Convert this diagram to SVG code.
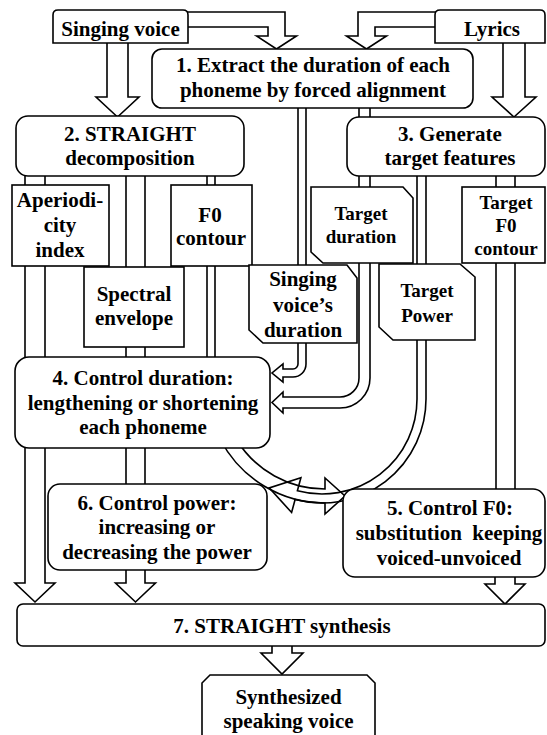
<svg xmlns="http://www.w3.org/2000/svg" width="547" height="735" viewBox="0 0 547 735">
<style>
.c{fill:#fff;stroke:#000;stroke-width:1.6;stroke-linejoin:miter}
.a{fill:none;stroke:#000;stroke-width:1.6}
.n{fill:#fff;stroke:#000;stroke-width:1.6}
text{font-family:"Liberation Serif","Times New Roman",serif;font-weight:bold;font-size:21px;text-anchor:middle;fill:#000}
.s{font-size:19px}
</style>
<rect width="547" height="735" fill="#fff"/>
<g id="connectors">
<path class="c" d="M180,12 H285 V36 H296.5 L276.5,49 L256.5,36 H268 V27 H180 Z"/>
<path class="c" d="M440,12 H358 V36 H346.5 L366.5,49 L386.5,36 H375 V27 H440 Z"/>
<path class="c" d="M107,38 V97 H96 L117.5,117 L139,97 H128 V38 Z"/>
<path class="c" d="M503,38 V97 H492 L514,117 L536,97 H525 V38 Z"/>
<path class="c" d="M298,105 V364 A5,5 0 0 1 293,369 H283 V364 L272,373 L283,382 V377 H293 A13,13 0 0 0 306,364 V105 Z"/>
<path class="c" d="M359,105 V378 A19,19 0 0 1 340,397 H283 V392 L272,402.5 L283,413 V408 H340 A30,30 0 0 0 370,378 V105 Z"/>
<path class="a" d="M417,170 V399 A95,95 0 0 1 297.4,490.8 L300.9,477.7 L269.2,487.9 L291.6,512.5 L295.1,499.5 A104,104 0 0 0 426,399 V170 Z"/>
<path class="a" d="M220.6,440 A118,118 0 0 0 325,503 V514 L345,496 L325,478 V489 A104,104 0 0 1 236.7,440 Z"/>
<path class="c" d="M126,170 V583 H115.5 L135.5,602 L155.5,583 H145 V170 Z"/>
<path class="c" d="M25,170 V583 H15 L35,602 L55,583 H45 V170 Z"/>
<path class="c" d="M207,170 V362 H215 V170 Z"/>
<path class="c" d="M496,170 V495 H515 V170 Z"/>
<path class="c" d="M495,570 V584 H485 L505,604 L525,584 H515 V570 Z"/>
<path class="c" d="M272,640 V653 H261 L282,674 L303,653 H292 V640 Z"/>
</g>
<g id="singing-voice">
<path class="n" d="M53,43 V15 Q53,10 58,10 H183 Q188,10 188,15 V43 Z"/>
<text x="120.5" y="36">Singing voice</text>
</g>
<g id="lyrics">
<path class="n" d="M435,43 V15 Q435,10 440,10 H540 Q545,10 545,15 V43 Z"/>
<text x="492" y="36">Lyrics</text>
</g>
<g id="node1">
<rect class="n" x="152" y="49" width="321" height="59" rx="10"/>
<text x="313" y="72">1. Extract the duration of each</text>
<text x="313" y="97">phoneme by forced alignment</text>
</g>
<g id="node2">
<rect class="n" x="16" y="116" width="228" height="60" rx="12"/>
<text x="130" y="141">2. STRAIGHT</text>
<text x="130" y="165">decomposition</text>
</g>
<g id="node3">
<rect class="n" x="347" y="117" width="198" height="59" rx="12"/>
<text x="450" y="141">3. Generate</text>
<text x="450" y="165">target features</text>
</g>
<g id="aperiodicity">
<rect class="n" x="12" y="185" width="97" height="81"/>
<text x="60" y="207">Aperiodi-</text>
<text x="60" y="232">city</text>
<text x="60" y="257">index</text>
</g>
<g id="f0-contour">
<rect class="n" x="171" y="185" width="81" height="81"/>
<text x="210" y="222">F0</text>
<text x="211" y="245">contour</text>
</g>
<g id="spectral-envelope">
<rect class="n" x="84" y="267" width="100" height="80"/>
<text x="134" y="301">Spectral</text>
<text x="134" y="325">envelope</text>
</g>
<g id="target-duration">
<path class="n" d="M311,187 H403 L413,198 V263 H323 L311,252 Z"/>
<text class="s" x="361" y="220">Target</text>
<text class="s" x="361" y="243">duration</text>
</g>
<g id="target-f0">
<rect class="n" x="462" y="187" width="83" height="76"/>
<text class="s" x="506" y="209">Target</text>
<text class="s" x="506" y="232">F0</text>
<text class="s" x="506" y="255">contour</text>
</g>
<g id="singing-duration">
<path class="n" d="M249,265 H347 L357,278 V343 H263 L249,330 Z"/>
<text x="303" y="286">Singing</text>
<text x="303" y="312">voice’s</text>
<text x="303" y="337">duration</text>
</g>
<g id="target-power">
<path class="n" d="M379,264 H460 L475,277 V340 H393 L379,327 Z"/>
<text class="s" x="427" y="297">Target</text>
<text class="s" x="427" y="322">Power</text>
</g>
<g id="node4">
<rect class="n" x="15" y="357" width="255" height="91" rx="14"/>
<text x="143" y="385">4. Control duration:</text>
<text x="143" y="410">lengthening or shortening</text>
<text x="143" y="434">each phoneme</text>
</g>
<g id="node6">
<rect class="n" x="48" y="484" width="219" height="86" rx="12"/>
<text x="157" y="510">6. Control power:</text>
<text x="157" y="534">increasing or</text>
<text x="157" y="559">decreasing the power</text>
</g>
<g id="node5">
<rect class="n" x="343" y="489" width="202" height="88" rx="12"/>
<text x="450" y="515">5. Control F0:</text>
<text x="449" y="540" style="white-space:pre">substitution  keeping</text>
<text x="449" y="565">voiced-unvoiced</text>
</g>
<g id="node7">
<rect class="n" x="17" y="604" width="528" height="42" rx="6"/>
<text x="282" y="633">7. STRAIGHT synthesis</text>
</g>
<g id="synthesized">
<path class="n" d="M202,740 V683 L210,675 H367 L375,683 V740"/>
<text x="288.5" y="704">Synthesized</text>
<text x="288.5" y="728">speaking voice</text>
</g>
</svg>
